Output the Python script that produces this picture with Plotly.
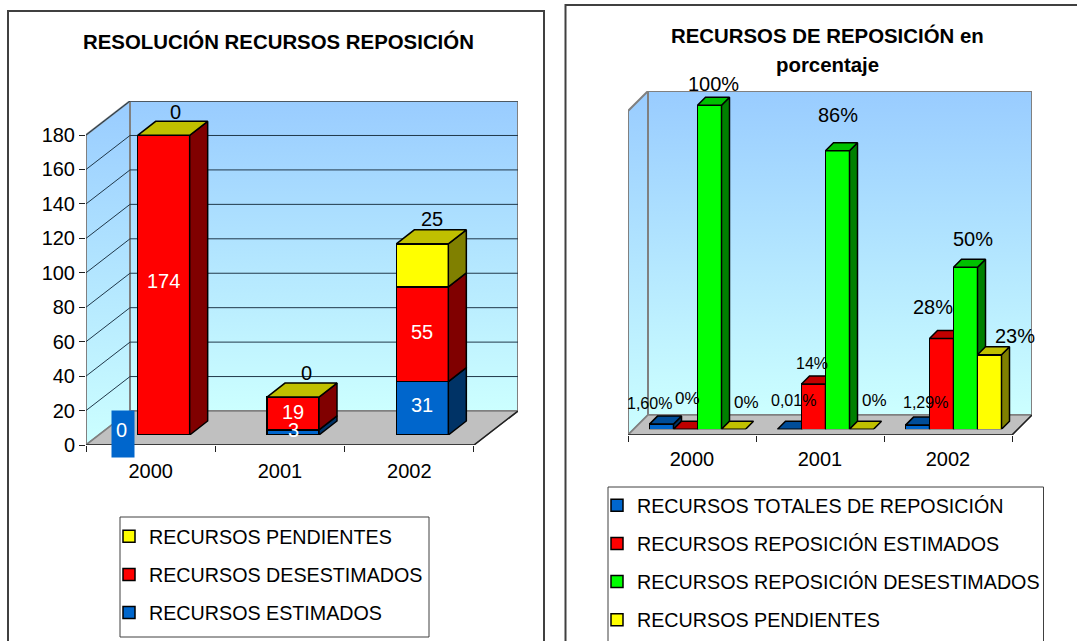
import plotly.graph_objects as go

W, H = 1077, 700   # the page window shows the top 641 px; the panels run past its lower edge
PLOT_H = 689       # height left for the paper area once the legends have taken their margin
FONT = "Liberation Sans"

# ---------- data ----------
YEARS = ["2000", "2001", "2002"]

LEFT_TITLE = "RESOLUCIÓN RECURSOS REPOSICIÓN"
LEFT_NAMES = ["RECURSOS ESTIMADOS", "RECURSOS DESESTIMADOS", "RECURSOS PENDIENTES"]
ESTIMADOS = [0, 3, 31]
DESESTIMADOS = [174, 19, 55]
PENDIENTES = [0, 0, 25]
LEFT_TICKS = [0, 20, 40, 60, 80, 100, 120, 140, 160, 180]

RIGHT_TITLE = ["RECURSOS DE REPOSICIÓN en", "porcentaje"]
RIGHT_NAMES = ["RECURSOS TOTALES DE REPOSICIÓN", "RECURSOS REPOSICIÓN ESTIMADOS",
               "RECURSOS REPOSICIÓN DESESTIMADOS", "RECURSOS PENDIENTES"]
PCT_TOTALES = [1.6, 0.01, 1.29]
PCT_ESTIMADOS = [0, 14, 28]
PCT_DESESTIMADOS = [100, 86, 50]
PCT_PENDIENTES = [0, 0, 23]
PCT_LABELS = [["1,60%", "0,01%", "1,29%"], ["0%", "14%", "28%"],
              ["100%", "86%", "50%"], ["0%", "0%", "23%"]]

# ---------- style ----------
FRONT = ["#0066CC", "#FF0000", "#00FF00", "#FFFF00"]
SIDE = ["#003366", "#800000", "#008000", "#808000"]
TOP = ["#004D99", "#C00000", "#00C000", "#C0C000"]
LEFT_IDX = [0, 1, 3]
WALL = "#808080"
GRID = "#20384A"
GRAD = dict(type="vertical", colorscale=[[0, "#CCFFFF"], [1, "#99CCFF"]])


def px(x):
    return x / W


def py(y):
    return 1 - y / PLOT_H


fig = go.Figure()
anns = []
shapes = []


def axis_pair(n, x0, x1, y_bottom, y_top, xr, yr):
    s = "" if n == 1 else str(n)
    fig.layout["xaxis" + s] = dict(domain=[px(x0), px(x1)], range=xr, visible=False,
                                   anchor="y" + s, fixedrange=True)
    fig.layout["yaxis" + s] = dict(domain=[py(y_bottom), py(y_top)], range=yr, visible=False,
                                   anchor="x" + s, fixedrange=True)
    return "x" + s, "y" + s


def poly(xs, ys, xa, ya, fill=None, line=None, width=1.0, grad=None):
    kw = dict(x=xs, y=ys, xaxis=xa, yaxis=ya, mode="lines", showlegend=False,
              hoverinfo="skip", cliponaxis=False,
              line=dict(color=line or "rgba(0,0,0,0)", width=width))
    if fill or grad:
        kw["fill"] = "toself"
    if fill:
        kw["fillcolor"] = fill
    if grad:
        kw["fillgradient"] = grad
    fig.add_trace(go.Scatter(**kw))


def room(xa, ya, dx, dy, top, ticks, n_cat=3):
    """floor + walls + grid in data units of the front plane"""
    xmax = n_cat + dx
    poly([dx, xmax, xmax, dx, dx], [dy, dy, top + dy, top + dy, dy], xa, ya, line=WALL, width=2, grad=GRAD)
    poly([0, dx, dx, 0, 0], [0, dy, top + dy, top, 0], xa, ya, line=WALL, width=2, grad=GRAD)
    poly([0, n_cat, xmax, dx, 0], [0, 0, dy, dy, 0], xa, ya, fill="#C0C0C0", line=WALL, width=1.5)
    if ticks:
        gx, gy = [], []
        for v in ticks[1:]:
            gx += [0, dx, xmax, None]
            gy += [v, v + dy, v + dy, None]
        poly(gx, gy, xa, ya, line=GRID, width=1)
    poly([0, n_cat, xmax], [0, 0, dy], xa, ya, line="#202020", width=1.5)


def faces(xa, ya, xc, base, val, w, dx, dy, side, top_col, draw_top=True):
    sx, sy, tx, ty = [], [], [], []
    for c, b, v in zip(xc, base, val):
        r, l = c + w / 2, c - w / 2
        if v > 0:
            sx += [r, r + dx, r + dx, r, r, None]
            sy += [b, b + dy, b + v + dy, b + v, b, None]
        tx += [l, r, r + dx, l + dx, l, None]
        ty += [b + v, b + v, b + v + dy, b + v + dy, b + v, None]
    if sx:
        poly(sx, sy, xa, ya, fill=side, line="black", width=1.5)
    if draw_top:
        poly(tx, ty, xa, ya, fill=top_col, line="black", width=1.5)


# ---------- left chart ----------
L_CAT = 129.33
L_SCALE = 1.722
L_DX, L_DY = 44 / L_CAT, 34 / L_SCALE
L_XR = [0, 432 / L_CAT]
L_YR = [0, 344 / L_SCALE]
xa, ya = axis_pair(1, 86, 518, 445, 101, L_XR, L_YR)
fig.update_layout(
    xaxis=dict(visible=True, showline=False, showgrid=False, zeroline=False,
               tickvals=[0.5, 1.5, 2.5], ticktext=YEARS, ticks="outside", ticklen=8,
               tickcolor="rgba(0,0,0,0)", tickfont=dict(family=FONT, size=20, color="black"),
               minor=dict(tickmode="array", tickvals=[0, 1, 2, 3], ticks="outside", ticklen=6,
                          tickcolor="#202020", tickwidth=1, showgrid=False)),
    yaxis=dict(visible=True, showline=False, showgrid=False, zeroline=False,
               tickvals=LEFT_TICKS, ticks="outside", ticklen=6, tickcolor="#202020",
               tickfont=dict(family=FONT, size=20, color="black")),
)
room(xa, ya, L_DX, L_DY, 180, LEFT_TICKS)

xb, yb = axis_pair(2, 86 + 13, 518 + 13, 435, 91, L_XR, L_YR)
xc = [0.5, 1.5, 2.5]
BW_L = 52 / L_CAT
stack_base = [0, 0, 0]
for i, vals in enumerate([ESTIMADOS, DESESTIMADOS, PENDIENTES]):
    k = LEFT_IDX[i]
    fig.add_trace(go.Bar(x=xc, y=vals, xaxis=xb, yaxis=yb, width=BW_L, name=LEFT_NAMES[i],
                         marker=dict(color=FRONT[k], line=dict(color="black", width=1.5)),
                         legend="legend", legendgroup="L%d" % i, legendrank=10 - i, hoverinfo="skip"))
    faces(xb, yb, xc, stack_base, vals, BW_L, 18 / L_CAT, 14 / L_SCALE, SIDE[k], TOP[k], draw_top=(i == 2))
    stack_base = [a + b for a, b in zip(stack_base, vals)]

L_SHIFT = {0: [(-42, 5), (0, 2), (0, 3)], 1: [(0, 4), (0, 1), (0, 2)], 2: [(12, 23), (13, 24), (10, 25)]}
base = [0, 0, 0]
for i, vals in enumerate([ESTIMADOS, DESESTIMADOS, PENDIENTES]):
    for j, v in enumerate(vals):
        yv = base[j] + (v if i == 2 else v / 2)
        sx, sy = L_SHIFT[i][j]
        a = dict(x=xc[j], y=yv, xref=xb, yref=yb, text=str(v), showarrow=False, xshift=sx, yshift=sy,
                 xanchor="center", yanchor="middle",
                 font=dict(family=FONT, size=20, color="black" if i == 2 else "white"))
        if i == 0 and v == 0:
            anns.append(dict(x=xc[j], y=yv, xref=xb, yref=yb, text=" ", showarrow=False, xshift=-41, yshift=1,
                             xanchor="center", yanchor="middle", bgcolor=FRONT[0], width=22, height=46,
                             borderpad=0, font=dict(family=FONT, size=20, color="white")))
        anns.append(a)
    base = [a_ + b_ for a_, b_ in zip(base, vals)]

# ---------- right chart ----------
R_CAT = 128.0
R_SCALE = 3.24
R_DX, R_DY = 20 / R_CAT, 20 / R_SCALE
R_XR = [0, 404 / R_CAT]
R_YR = [0, 344 / R_SCALE]
xw, yw = axis_pair(3, 628, 1032, 435, 91, R_XR, R_YR)
fig.update_layout(
    xaxis3=dict(visible=True, showline=False, showgrid=False, zeroline=False,
                tickvals=[0.5, 1.5, 2.5], ticktext=YEARS, ticks="outside", ticklen=6,
                tickcolor="rgba(0,0,0,0)", tickfont=dict(family=FONT, size=20, color="black"),
                minor=dict(tickmode="array", tickvals=[0, 1, 2, 3], ticks="outside", ticklen=6,
                           tickcolor="#202020", tickwidth=1, showgrid=False)),
)
room(xw, yw, R_DX, R_DY, 100, None)

BW_R = 24 / R_CAT
R_SERIES = [PCT_TOTALES, PCT_ESTIMADOS, PCT_DESESTIMADOS, PCT_PENDIENTES]
R_SHIFT = [[(-12, 21), (4, 29), (8, 23)],
           [(2, 31), (-2, 20), (-9, 32)],
           [(4, 21), (0, 36), (7, 28)],
           [(13, 27), (13, 29), (25, 19)]]
R_SIZE = [[16, 16, 16], [17, 16, 20], [20, 20, 20], [17, 17, 20]]
for k, vals in enumerate(R_SERIES):
    xs_, ys_ = axis_pair(4 + k, 628 + 5.5, 1032 + 5.5, 429.3, 85.3, R_XR, R_YR)
    pos = [c + (k - 1.5) * BW_R for c in xc]
    fig.add_trace(go.Bar(x=pos, y=vals, xaxis=xs_, yaxis=ys_, width=BW_R, name=RIGHT_NAMES[k],
                         marker=dict(color=FRONT[k], line=dict(color="black", width=1.5)),
                         legend="legend2", legendgroup="R%d" % k, legendrank=k + 1, hoverinfo="skip"))
    faces(xs_, ys_, pos, [0, 0, 0], vals, BW_R, 8 / R_CAT, 8 / R_SCALE, SIDE[k], TOP[k])
    for j, v in enumerate(vals):
        sx, sy = R_SHIFT[k][j]
        anns.append(dict(x=pos[j], y=v, xref=xs_, yref=ys_, text=PCT_LABELS[k][j], showarrow=False,
                         xshift=sx, yshift=sy, xanchor="center", yanchor="middle",
                         font=dict(family=FONT, size=R_SIZE[k][j], color="black")))

# ---------- titles ----------
for txt, cx, cy in [(LEFT_TITLE, 278, 41), (RIGHT_TITLE[0], 827, 36), (RIGHT_TITLE[1], 827, 65)]:
    anns.append(dict(xref="paper", yref="paper", x=px(cx), y=py(cy), text="<b>%s</b>" % txt, showarrow=False,
                     xanchor="center", yanchor="middle", font=dict(family=FONT, size=20.4, color="black")))

# ---------- panels ----------
for x0, y0, x1, y1, col, lw in [(8, 11, 544, 680, "#404040", 2), (565.5, 5, 1100, 680, "#404040", 2),
                                (120, 517, 429, 637, "#404040", 1), (608, 487, 1043.5, 680, "#404040", 1)]:
    shapes.append(dict(type="rect", xref="paper", yref="paper", x0=px(x0), x1=px(x1), y0=py(y0), y1=py(y1),
                       line=dict(color=col, width=lw), fillcolor="rgba(0,0,0,0)", layer="below"))

fig.update_layout(
    width=W, height=H, autosize=False, margin=dict(l=0, r=0, t=0, b=0, pad=0),
    paper_bgcolor="white", plot_bgcolor="rgba(0,0,0,0)", barmode="stack", showlegend=True,
    annotations=anns, shapes=shapes,
    legend=dict(x=px(109), y=py(632), xanchor="left", yanchor="bottom", traceorder="grouped",
                tracegroupgap=9.5, bgcolor="rgba(0,0,0,0)", itemclick=False, itemdoubleclick=False,
                font=dict(family=FONT, size=19.7, color="black")),
    legend2=dict(x=px(597), y=py(639), xanchor="left", yanchor="bottom", traceorder="grouped",
                 tracegroupgap=9.5, bgcolor="rgba(0,0,0,0)", itemclick=False, itemdoubleclick=False,
                 font=dict(family=FONT, size=19.7, color="black")),
)

fig.write_html("out.html", config={"displayModeBar": False},
               post_script="document.body.style.margin='0';document.documentElement.style.overflow='hidden';")
